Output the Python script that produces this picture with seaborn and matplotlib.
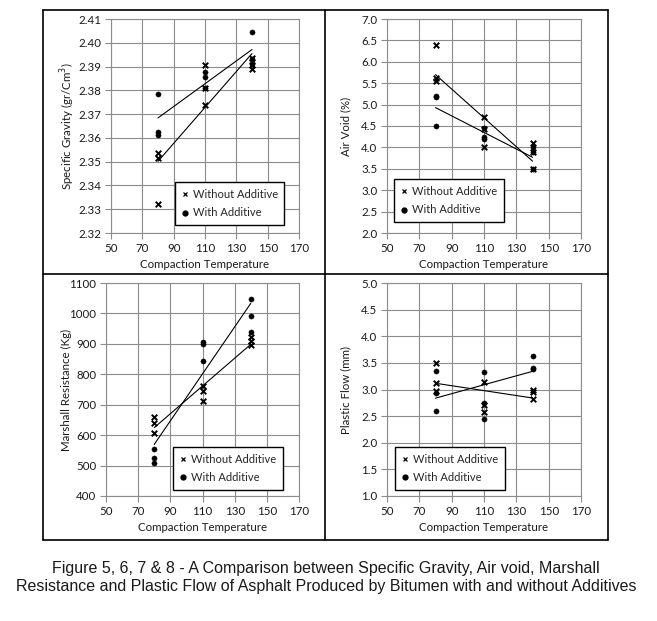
# Compaction temperature vs. asphalt properties, with / without additive
import matplotlib
matplotlib.use("Agg")
import matplotlib.pyplot as plt
from matplotlib.lines import Line2D
import numpy as np
import seaborn as sns

# data (3 samples per temperature)
temp = [80, 80, 80, 110, 110, 110, 140, 140, 140]

sg_without = [2.3535, 2.3515, 2.332, 2.3905, 2.381, 2.3738, 2.3935, 2.3905, 2.389]
sg_with = [2.3785, 2.3625, 2.3612, 2.3878, 2.3857, 2.3808, 2.4045, 2.393, 2.391]

av_without = [6.39, 5.62, 5.55, 4.72, 4.43, 4.00, 4.10, 3.90, 3.50]
av_with = [5.20, 5.17, 4.50, 4.45, 4.25, 4.19, 4.00, 3.90, 3.49]

ms_without = [660, 640, 607, 760, 746, 713, 922, 911, 895]
ms_with = [553, 526, 507, 905, 900, 845, 1048, 990, 938]

pf_without = [3.50, 3.13, 2.97, 3.15, 2.71, 2.58, 3.00, 2.95, 2.82]
pf_with = [3.35, 2.94, 2.60, 3.335, 2.74, 2.437, 3.62, 3.40, 3.38]

x_ticks = [50, 70, 90, 110, 130, 150, 170]
series_labels = ["Without Additive", "With Additive"]
x_label = "Compaction Temperature"
caption = ("Figure 5, 6, 7 & 8 - A Comparison between Specific Gravity, Air void, Marshall\n"
           "Resistance and Plastic Flow of Asphalt Produced by Bitumen with and without Additives")

sns.set_style("white")
plt.rcParams['font.family'] = ['Lato', 'DejaVu Sans']

W, H = 657, 621
fig = plt.figure(figsize=(W / 100, H / 100), dpi=100)


def px_axes(left, right, top, bottom):
    return fig.add_axes([left / W, 1 - bottom / H, (right - left) / W, (bottom - top) / H])


GRID = '#8c8c8c'

panels = [
    # (box px, without, with, ylim, ystep, fmt, ylabel, ylabel x px, legend anchor)
    ((111, 299, 19, 233), sg_without, sg_with, (2.32, 2.41), 0.01, '{:.2f}',
     'Specific Gravity (gr/Cm$^3$)', 68, (0.34, 0.037)),
    ((387, 581, 19, 233), av_without, av_with, (2.0, 7.0), 0.5, '{:.1f}',
     'Air Void (%)', 346, (0.036, 0.051)),
    ((106, 299, 283, 496), ms_without, ms_with, (400, 1100), 100, '{:.0f}',
     'Marshall Resistance (Kg)', 66, (0.347, 0.028)),
    ((387, 581, 283, 496), pf_without, pf_with, (1.0, 5.0), 0.5, '{:.1f}',
     'Plastic Flow (mm)', 346, (0.041, 0.028)),
]

for box, y_wo, y_w, ylim, ystep, fmt, ylabel, ylab_x, leg_anchor in panels:
    ax = px_axes(*box)

    # trend lines
    sns.regplot(x=temp, y=y_wo, ax=ax, scatter=False, ci=None, truncate=True,
                line_kws=dict(color='black', lw=0.8))
    sns.regplot(x=temp, y=y_w, ax=ax, scatter=False, ci=None, truncate=True,
                line_kws=dict(color='black', lw=0.8))

    # points
    sns.scatterplot(x=temp, y=y_w, ax=ax, marker='o', color='black', s=14,
                    edgecolor='black', linewidth=0.3, zorder=3)
    sns.scatterplot(x=temp, y=y_wo, ax=ax, marker='x', color='black', s=16,
                    linewidth=1.4, zorder=4)

    ax.set_xlim(50, 170)
    ax.set_ylim(*ylim)
    ax.set_xticks(x_ticks)
    yt = np.arange(ylim[0], ylim[1] + ystep / 2, ystep)
    ax.set_yticks(yt)
    ax.set_yticklabels([fmt.format(v) for v in yt])
    ax.grid(True, color=GRID, lw=0.8)
    for s in ax.spines.values():
        s.set_color(GRID)
        s.set_linewidth(0.8)
    ax.tick_params(axis='both', direction='out', length=4, width=0.8, color=GRID,
                   labelsize=8.3, labelcolor='#1a1a1a', pad=3, left=True, bottom=True)
    ax.set_xlabel(x_label, fontsize=8.3, color='#1a1a1a', labelpad=4)
    ax.set_ylabel('')
    fig.text(ylab_x / W, 1 - ((box[2] + box[3]) / 2) / H, ylabel, rotation=90,
             ha='center', va='center', fontsize=8.3, color='#1a1a1a')

    handles = [Line2D([], [], ls='none', marker='x', color='black', ms=3.5, mew=0.9),
               Line2D([], [], ls='none', marker='o', color='black', ms=3.5)]
    leg = ax.legend(handles, series_labels, loc='lower left', bbox_to_anchor=leg_anchor,
                    borderaxespad=0, frameon=True, fancybox=False, fontsize=8,
                    handlelength=0.6, handletextpad=0.4, borderpad=0.6,
                    labelspacing=0.7, edgecolor='black', framealpha=1)
    leg.get_frame().set_linewidth(1.0)

# table border around the four charts
L, R, T, B, MX, MY = 43, 608, 10, 540, 325, 274
kw = dict(color='black', lw=1.2, transform=fig.transFigure)
for xs, ys in [((L, R), (T, T)), ((L, R), (B, B)), ((L, L), (T, B)), ((R, R), (T, B)),
               ((MX, MX), (T, B)), ((L, R), (MY, MY))]:
    fig.add_artist(Line2D([x / W for x in xs], [1 - y / H for y in ys], **kw))

fig.text(326 / W, 1 - 578 / H, caption, ha='center', va='center', fontsize=11.5,
         family=['Liberation Sans', 'DejaVu Sans'], color='#1a1a1a', linespacing=1.25)

fig.savefig('out.png', dpi=100)
